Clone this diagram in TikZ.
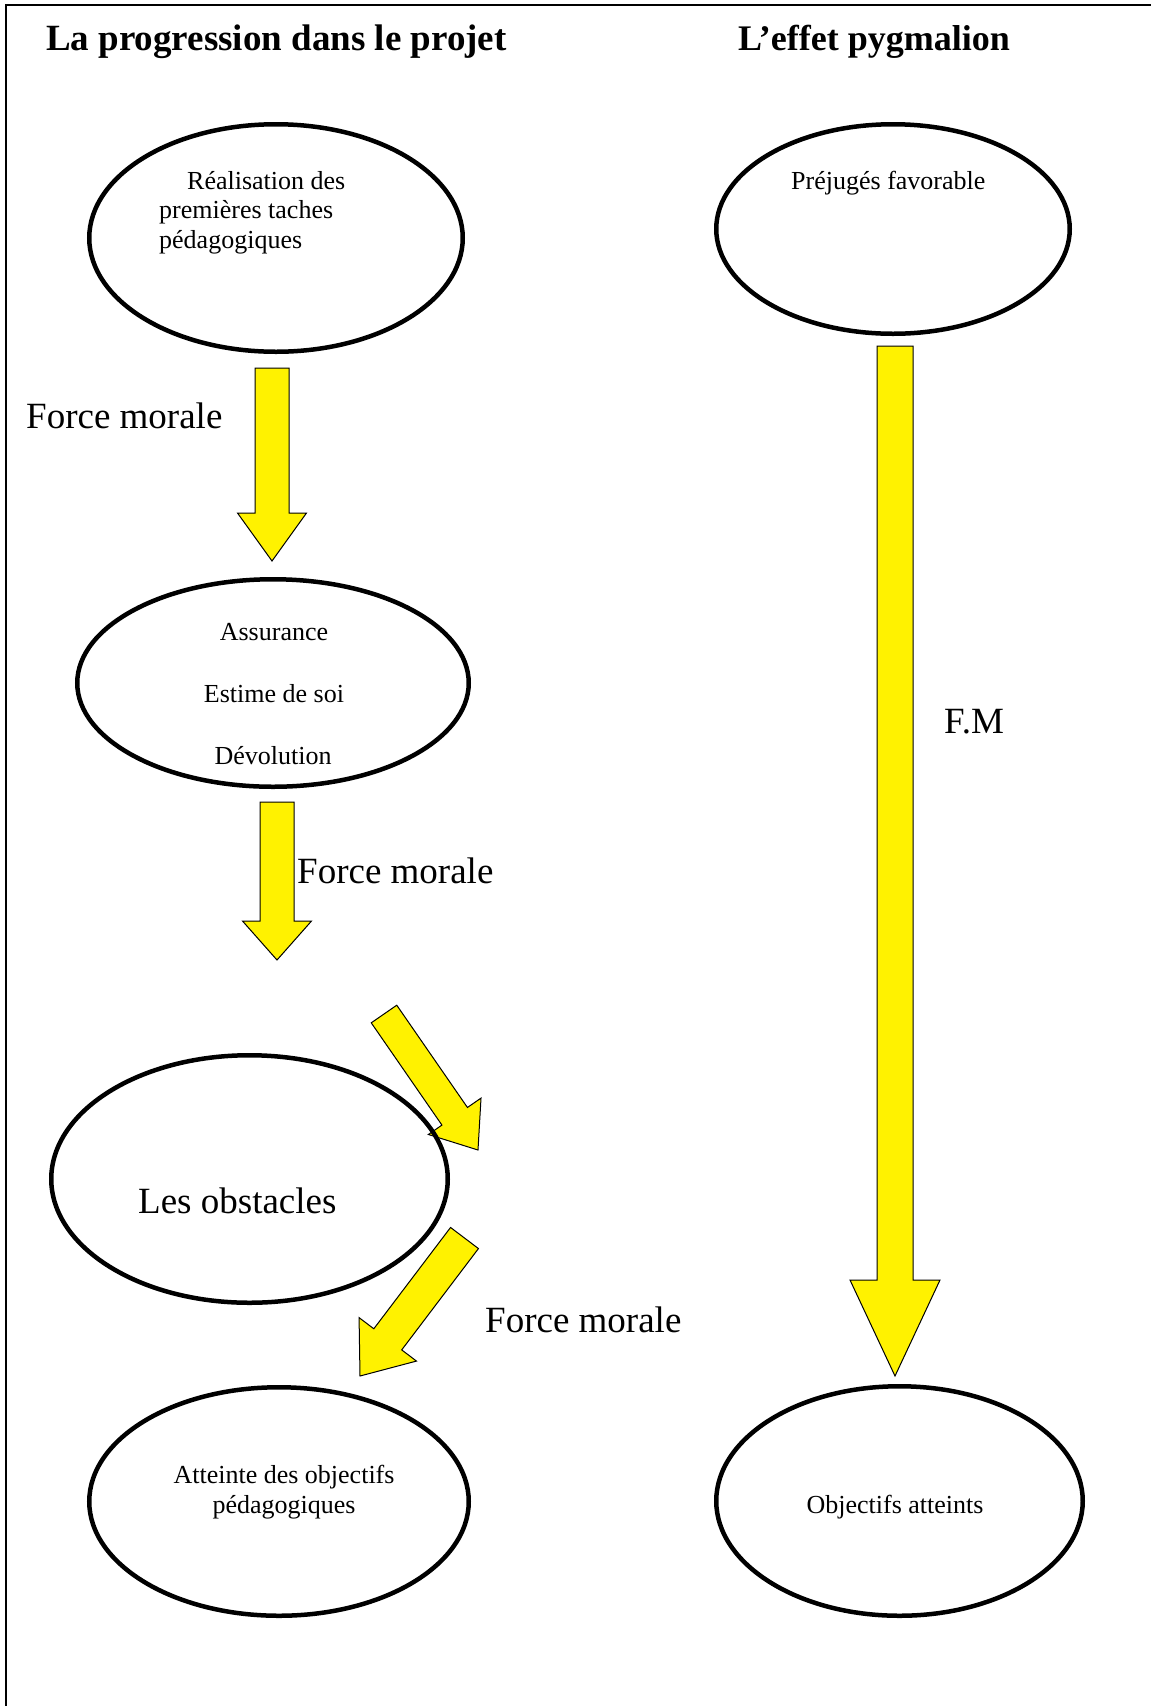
\documentclass[tikz,border=0pt]{standalone}
\usepackage{fontspec}
\setmainfont{Liberation Serif}
\usetikzlibrary{shapes.geometric,calc}

\tikzset{
  bubble/.style={ellipse, draw, line width=4.5pt, inner sep=0pt, outer sep=0pt},
  heading/.style={anchor=base west, inner sep=0pt, font=\fontsize{37}{44}\selectfont\bfseries},
  smalltext/.style={inner sep=0pt, font=\fontsize{26}{30}\selectfont},
  bigtext/.style={anchor=base west, inner sep=0pt, font=\fontsize{37}{44}\selectfont},
  arrowfill/.style={fill=yellow, draw=black, line width=1pt, line join=miter},
}

% Block arrow from tail #1 to tip #2:
% #3 half shaft width, #4 half head width, #5 head length
\newcommand\blockarrow[5]{%
  \path ($(#2)!#5!(#1)$) coordinate (#2-b);
  \filldraw[arrowfill]
    ($(#1)!#3!90:(#2)$) -- ($(#2-b)!#3!-90:(#1)$) -- ($(#2-b)!#4!-90:(#1)$)
    -- (#2) -- ($(#2-b)!#4!90:(#1)$) -- ($(#2-b)!#3!90:(#1)$)
    -- ($(#1)!#3!-90:(#2)$) -- cycle;
}

\begin{document}
\begin{tikzpicture}[x=1pt,y=-1pt]
\useasboundingbox (0,0) rectangle (1151,1706);

% frame (top and left edges)
\draw[line width=2pt] (1151,5) -- (5.5,5) -- (5.5,1706);

% headings
\node[heading] (h1) at (46,50) {La progression dans le projet};
\node[heading, font=\fontsize{36}{43}\selectfont\bfseries] (h2) at (738,50) {L’effet pygmalion};

% yellow block arrows
\coordinate (a1t) at (272,368);  \coordinate (a1h) at (272,561);
\coordinate (a2t) at (277,802);  \coordinate (a2h) at (277,960);
\coordinate (a3t) at (384,1014); \coordinate (a3h) at (478,1150);
\coordinate (a4t) at (464.5,1238); \coordinate (a4h) at (360,1376);
\coordinate (a5t) at (895,346);  \coordinate (a5h) at (895,1376);
\blockarrow{a1t}{a1h}{17pt}{34.5pt}{48pt}
\blockarrow{a2t}{a2h}{17pt}{34.5pt}{39pt}
\blockarrow{a3t}{a3h}{15.5pt}{32pt}{41pt}
\blockarrow{a4t}{a4h}{17.5pt}{36pt}{46pt}
\blockarrow{a5t}{a5h}{18pt}{45pt}{96pt}

% ellipses
\node[bubble, minimum width=373.5pt, minimum height=227.5pt] (e1) at (276,238) {};
\node[bubble, minimum width=391.5pt, minimum height=207.5pt] (e2) at (273,683) {};
\node[bubble, minimum width=396.5pt, minimum height=247.5pt] (e3) at (249.5,1179) {};
\node[bubble, minimum width=379.5pt, minimum height=228.5pt] (e4) at (279,1501.5) {};
\node[bubble, minimum width=353.5pt, minimum height=209.5pt] (e5) at (893,229) {};
\node[bubble, minimum width=366.5pt, minimum height=229.5pt] (e6) at (899.5,1501) {};

% texts inside the ellipses
\node[smalltext, anchor=base west] (t1a) at (187,189) {Réalisation des};
\node[smalltext, anchor=base west] (t1b) at (159,218) {premières taches};
\node[smalltext, anchor=base west] (t1c) at (159,248) {pédagogiques};

\node[smalltext, anchor=base] (t2a) at (274,640) {Assurance};
\node[smalltext, anchor=base] (t2b) at (274,702) {Estime de soi};
\node[smalltext, anchor=base] (t2c) at (273,764) {Dévolution};

\node[bigtext] (t3) at (138,1213) {Les obstacles};

\node[smalltext, anchor=base] (t4a) at (284,1483) {Atteinte des objectifs};
\node[smalltext, anchor=base] (t4b) at (284,1513) {pédagogiques};

\node[smalltext, anchor=base west] (t5) at (791,189) {Préjugés favorable};
\node[smalltext, anchor=base] (t6) at (895,1513) {Objectifs atteints};

% arrow labels
\node[bigtext] (l1) at (26,428) {Force morale};
\node[bigtext] (l2) at (297,883) {Force morale};
\node[bigtext] (l3) at (485,1332) {Force morale};
\node[bigtext] (l4) at (944,733) {F.M};
\end{tikzpicture}
\end{document}
